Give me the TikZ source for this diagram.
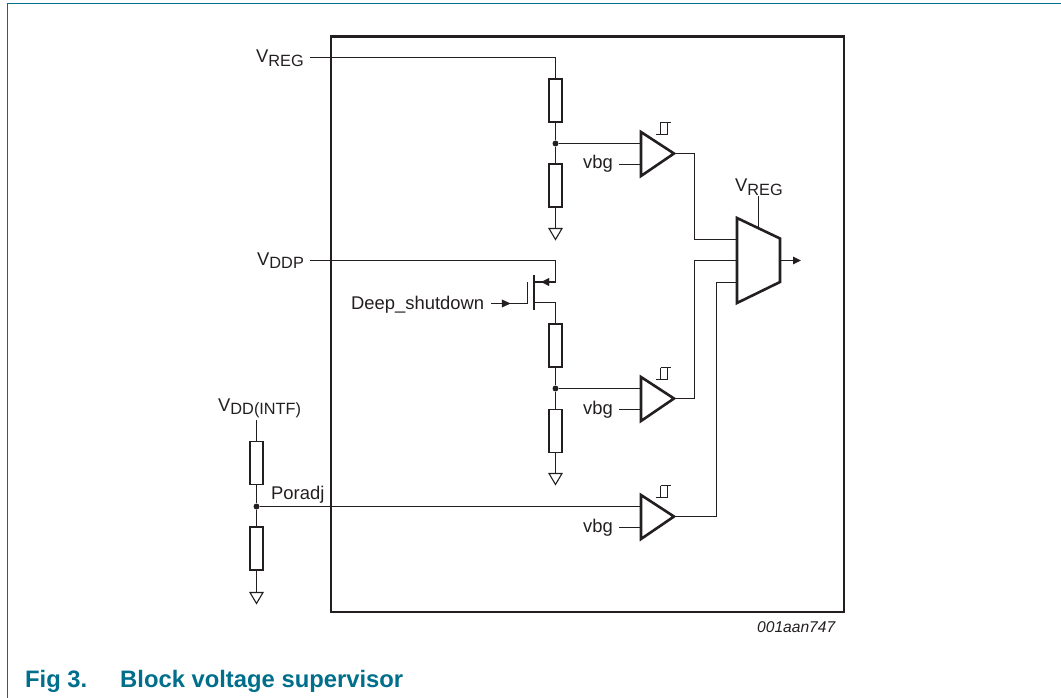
\documentclass[tikz,border=0pt]{standalone}
\usepackage{fontspec}
\setmainfont{Liberation Sans}
\usetikzlibrary{arrows.meta,calc}
\definecolor{ink}{HTML}{231F20}
\definecolor{nxp}{HTML}{006F8C}
\newcommand{\subsc}[1]{\raisebox{-3.6pt}{\fontsize{16.3}{16.3}\selectfont #1}}
\tikzset{
  wire/.style={draw=ink,line width=1.1pt},
  heavy/.style={draw=ink,line width=2.6pt,line join=miter},
  resistor/.style={draw=ink,line width=1.1pt,fill=white,minimum width=13pt,minimum height=43pt,inner sep=0pt,outer sep=0pt},
  lbl/.style={text=ink,inner sep=0pt,anchor=base west,font=\fontsize{18.4}{20}\selectfont},
  dotnode/.style={circle,fill=ink,minimum size=6pt,inner sep=0pt},
  sig/.style={wire,-{Triangle[length=8pt,width=7.5pt]}},
  gnd/.style={draw=ink,line width=1.1pt,line join=miter},
  hyst/.style={draw=ink,line width=1.1pt}
}
\newcommand{\ground}[1]{\draw[gnd] ($(#1)+(-6.5,0)$) -- ($(#1)+(6.5,0)$) -- ($(#1)+(0,11)$) -- cycle;}
\newcommand{\comparator}[3]{% name, x of input side, y of centre
  \coordinate (#1top) at (#2,#3-21.5);
  \coordinate (#1bot) at (#2,#3+22.5);
  \coordinate (#1out) at (#2+33,#3);
  \coordinate (#1a) at (#2,#3-10);
  \coordinate (#1b) at (#2,#3+11);
  \draw[heavy] (#1top) -- (#1out) -- (#1bot) -- cycle;
  \draw[hyst] (#2+15,#3-19) -- (#2+26.5,#3-19) (#2+26.5,#3-31) -- (#2+26.5,#3-19) (#2+19.5,#3-31) -- (#2+19.5,#3-19) (#2+19.5,#3-31) -- (#2+30,#3-31);
}
\begin{document}
\begin{tikzpicture}[x=1pt,y=-1pt]
\useasboundingbox (0,0) rectangle (1061,698);
% outer figure frame
\coordinate (fa) at (7.5,698);
\coordinate (fb) at (7.5,3.5);
\coordinate (fc) at (1061,3.5);
\draw[draw=nxp,line width=1.1pt] (fa) -- (fb) -- (fc);
% block
\coordinate (bl) at (331,36.5);
\coordinate (br) at (844,612);
\draw[heavy] (bl) rectangle (br);

% terminals
\node[lbl] (vreg) at (256,63) {V\subsc{REG}};
\node[lbl] (vddp) at (257,265) {V\subsc{DDP}};
\node[lbl] (vint) at (218,411) {V\subsc{DD(INTF)}};
\node[lbl] (por)  at (271,499.5) {Poradj};
\node[lbl] (deep) at (351,309) {Deep\_shutdown};
\node[lbl] (vbga) at (583,169) {vbg};
\node[lbl] (vbgb) at (583,414) {vbg};
\node[lbl] (vbgc) at (583,532) {vbg};
\node[lbl] (vregm) at (735,192) {V\subsc{REG}};
\node[lbl,font=\fontsize{15.6}{18}\selectfont\itshape] (code) at (757,632) {001aan747};
\node[anchor=base west,inner sep=0pt,text=nxp,font=\fontsize{23.8}{28}\selectfont\bfseries] (figno) at (25,687) {Fig 3.};
\node[anchor=base west,inner sep=0pt,text=nxp,font=\fontsize{23.8}{28}\selectfont\bfseries] (figt) at (120,687) {Block voltage supervisor};

% resistors
\node[resistor] (r1) at (555.5,100.5) {};
\node[resistor] (r2) at (555.5,185.5) {};
\node[resistor] (r3) at (555.5,345.5) {};
\node[resistor] (r4) at (555.5,431) {};
\node[resistor] (r5) at (256.5,463) {};
\node[resistor] (r6) at (256.5,548.5) {};
% junctions
\node[dotnode] (j1) at (555.5,143.5) {};
\node[dotnode] (j2) at (555.5,388.5) {};
\node[dotnode] (j3) at (256.5,506.5) {};
% grounds
\coordinate (g1) at (555.5,228.5);
\coordinate (g2) at (555.5,473.5);
\coordinate (g3) at (256.5,592.5);
\ground{g1}\ground{g2}\ground{g3}

% comparators
\comparator{ca}{641}{153.5}
\comparator{cb}{641}{398.5}
\comparator{cc}{641}{516.5}

% mux
\coordinate (m1) at (737,218);
\coordinate (m2) at (780,238.5);
\coordinate (m3) at (780,282);
\coordinate (m4) at (737,303);
\draw[heavy] (m1) -- (m2) -- (m3) -- (m4) -- cycle;
\coordinate (mvt) at (758.5,196);
\coordinate (mvb) at (758.5,228.5);
\draw[wire] (mvt) -- (mvb);
\coordinate (mout) at (780,260.5);
\coordinate (moutend) at (801,260.5);
\draw[sig] (mout) -- (moutend);
\coordinate (mia) at (737,239.5);
\coordinate (mib) at (737,260.5);
\coordinate (mic) at (737,282.5);

% wires
\coordinate (s1) at (310,57.5);
\draw[wire] (s1) -| (r1.north);
\draw[wire] (r1.south) -- (j1);
\draw[wire] (j1) -- (r2.north);
\draw[wire] (r2.south) -- (g1);
\draw[wire] (j1) -- (caa);
\coordinate (v1) at (619,164.5);
\draw[wire] (v1) -- (cab);
\draw[wire] (caout) -- ++(20.5,0) |- (mia);

% mosfet
\coordinate (s2) at (310,260.5);
\coordinate (dr) at (555.5,282);
\coordinate (ch) at (534,282);
\coordinate (sr) at (534,302.5);
\coordinate (srr) at (555.5,302.5);
\coordinate (cht) at (534,275);
\coordinate (chb) at (534,309.5);
\coordinate (gt) at (527.5,282);
\coordinate (gb) at (527.5,303.5);
\coordinate (gin) at (491,303.5);
\draw[wire] (s2) -| (dr);
\draw[wire] (dr) -- (ch);
\draw[draw=ink,fill=ink] (541.5,282) -- (549,278.3) -- (549,285.7) -- cycle;
\draw[wire] (sr) -- (srr) -- (r3.north);
\draw[draw=ink,line width=2.4pt] (cht) -- (chb);
\draw[wire] (gt) -- (gb);
\draw[wire] (gin) -- (gb);
\draw[draw=ink,fill=ink] (510,303.5) -- (502,299.8) -- (502,307.2) -- cycle;
\draw[wire] (r3.south) -- (j2);
\draw[wire] (j2) -- (r4.north);
\draw[wire] (r4.south) -- (g2);
\draw[wire] (j2) -- (cba);
\coordinate (v2) at (619,409.5);
\draw[wire] (v2) -- (cbb);
\draw[wire] (cbout) -- ++(20.5,0) |- (mib);

% interface
\coordinate (vi) at (256.5,420);
\draw[wire] (vi) -- (r5.north);
\draw[wire] (r5.south) -- (j3);
\draw[wire] (j3) -- (r6.north);
\draw[wire] (r6.south) -- (g3);
\draw[wire] (j3) -- (cca);
\coordinate (v3) at (619,527.5);
\draw[wire] (v3) -- (ccb);
\draw[wire] (ccout) -- ++(42.5,0) |- (mic);
\end{tikzpicture}
\end{document}
